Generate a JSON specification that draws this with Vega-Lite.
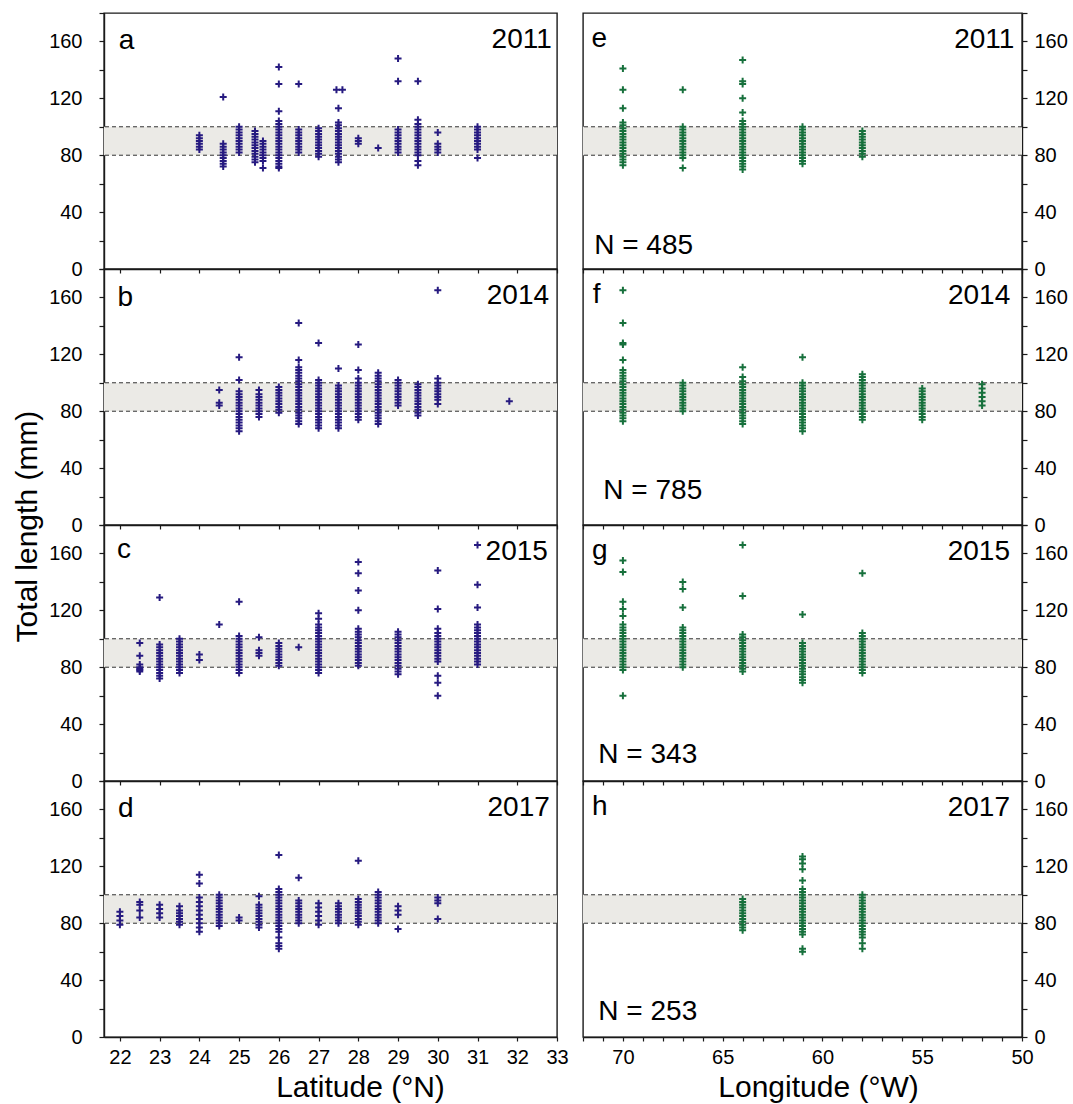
{
"$schema": "https://vega.github.io/schema/vega-lite/v6.json",
"padding": {"left": 11, "top": 2, "right": 5, "bottom": 5},
"background": "white",
"config": {
 "font": "Liberation Sans",
 "view": {"stroke": "#1a1a1a", "strokeWidth": 1.4},
 "axis": {"domainColor": "#1a1a1a", "domainWidth": 1.4, "tickColor": "#1a1a1a", "tickWidth": 1.2, "labelColor": "#000000", "labelFont": "Liberation Sans", "labelFontSize": 20, "titleFont": "Liberation Sans", "titleFontSize": 30, "titleFontWeight": "normal", "titleColor": "#000000", "grid": false, "labelFlush": false, "labelOverlap": false, "tickCount": 100},
 "text": {"font": "Liberation Sans", "fontSize": 28, "color": "#000000"}
},
"columns": 2,
"spacing": {"row": 0, "column": 26},
"bounds": "flush",
"resolve": {"scale": {"x": "independent", "y": "independent"}},
"concat": [
 {"width": 453, "height": 256, "data": {"values": [{}]}, "layer": [
  {"mark": {"type": "rect", "color": "#ebeae6"}, "encoding": {"y": {"datum": 80}, "y2": {"datum": 100}}},
  {"mark": {"type": "rule", "color": "#333333", "strokeDash": [4, 3], "strokeWidth": 1}, "encoding": {"y": {"datum": 80}}},
  {"mark": {"type": "rule", "color": "#333333", "strokeDash": [4, 3], "strokeWidth": 1}, "encoding": {"y": {"datum": 100}}},
  {"data": {"name": "lat"}, "transform": [{"filter": "datum.year == 2011"}], "mark": {"type": "point", "shape": "M-1,0H1M0,-1V1", "size": 49, "filled": false, "strokeWidth": 2, "color": "#261a80", "opacity": 1},
   "encoding": {"x": {"field": "lat", "type": "quantitative", "scale": {"domain": [21.6, 33], "nice": false, "zero": false}, "axis": {"values": [22,23,24,25,26,27,28,29,30,31,32,33], "tickCount": 100, "labels": false, "title": null, "tickSize": 4}},
    "y": {"field": "len", "type": "quantitative", "scale": {"domain": [0, 180], "nice": false, "zero": false}, "axis": {"values": [0,20,40,60,80,100,120,140,160,180], "tickCount": 100, "format": "d", "labelExpr": "datum.value % 40 == 0 && datum.value < 180 ? datum.label : ''", "labelOverlap": false, "title": null, "tickSize": 5, "labelPadding": 17}}}},
  {"mark": {"type": "text", "align": "left", "baseline": "alphabetic", "fontSize": 28}, "encoding": {"x": {"datum": 21.97}, "y": {"datum": 155}, "text": {"value": "a"}}},
  {"mark": {"type": "text", "align": "right", "baseline": "alphabetic", "fontSize": 28}, "encoding": {"x": {"datum": 32.87}, "y": {"datum": 155.5}, "text": {"value": "2011"}}}
 ]},
 {"width": 439, "height": 256, "data": {"values": [{}]}, "layer": [
  {"mark": {"type": "rect", "color": "#ebeae6"}, "encoding": {"y": {"datum": 80}, "y2": {"datum": 100}}},
  {"mark": {"type": "rule", "color": "#333333", "strokeDash": [4, 3], "strokeWidth": 1}, "encoding": {"y": {"datum": 80}}},
  {"mark": {"type": "rule", "color": "#333333", "strokeDash": [4, 3], "strokeWidth": 1}, "encoding": {"y": {"datum": 100}}},
  {"data": {"name": "lon"}, "transform": [{"filter": "datum.year == 2011"}], "mark": {"type": "point", "shape": "M-1,0H1M0,-1V1", "size": 49, "filled": false, "strokeWidth": 2, "color": "#17703c", "opacity": 1},
   "encoding": {"x": {"field": "lon", "type": "quantitative", "scale": {"domain": [50, 72], "reverse": true, "nice": false, "zero": false}, "axis": {"values": [50,51,52,53,54,55,56,57,58,59,60,61,62,63,64,65,66,67,68,69,70,71,72], "tickCount": 100, "labels": false, "title": null, "tickSize": 4}},
    "y": {"field": "len", "type": "quantitative", "scale": {"domain": [0, 180], "nice": false, "zero": false}, "axis": {"orient": "right", "values": [0,20,40,60,80,100,120,140,160,180], "tickCount": 100, "format": "d", "labelExpr": "datum.value % 40 == 0 && datum.value < 180 ? datum.label : ''", "labelOverlap": false, "title": null, "tickSize": 5, "labelPadding": 7, "labelAlign": "left"}}}},
  {"mark": {"type": "text", "align": "left", "baseline": "alphabetic", "fontSize": 28}, "encoding": {"x": {"datum": 71.57}, "y": {"datum": 156}, "text": {"value": "e"}}},
  {"mark": {"type": "text", "align": "right", "baseline": "alphabetic", "fontSize": 28}, "encoding": {"x": {"datum": 50.38}, "y": {"datum": 155.5}, "text": {"value": "2011"}}},
  {"mark": {"type": "text", "align": "left", "baseline": "alphabetic", "fontSize": 28}, "encoding": {"x": {"datum": 71.44}, "y": {"datum": 10.5}, "text": {"value": "N = 485"}}}
 ]},
 {"width": 453, "height": 256, "data": {"values": [{}]}, "layer": [
  {"mark": {"type": "rect", "color": "#ebeae6"}, "encoding": {"y": {"datum": 80}, "y2": {"datum": 100}}},
  {"mark": {"type": "rule", "color": "#333333", "strokeDash": [4, 3], "strokeWidth": 1}, "encoding": {"y": {"datum": 80}}},
  {"mark": {"type": "rule", "color": "#333333", "strokeDash": [4, 3], "strokeWidth": 1}, "encoding": {"y": {"datum": 100}}},
  {"data": {"name": "lat"}, "transform": [{"filter": "datum.year == 2014"}], "mark": {"type": "point", "shape": "M-1,0H1M0,-1V1", "size": 49, "filled": false, "strokeWidth": 2, "color": "#261a80", "opacity": 1},
   "encoding": {"x": {"field": "lat", "type": "quantitative", "scale": {"domain": [21.6, 33], "nice": false, "zero": false}, "axis": {"values": [22,23,24,25,26,27,28,29,30,31,32,33], "tickCount": 100, "labels": false, "title": null, "tickSize": 4}},
    "y": {"field": "len", "type": "quantitative", "scale": {"domain": [0, 180], "nice": false, "zero": false}, "axis": {"values": [0,20,40,60,80,100,120,140,160,180], "tickCount": 100, "format": "d", "labelExpr": "datum.value % 40 == 0 && datum.value < 180 ? datum.label : ''", "labelOverlap": false, "title": "Total length (mm)", "titleX": -68, "titleY": 257, "titleAlign": "center", "titleBaseline": "alphabetic", "titleAngle": 270, "tickSize": 5, "labelPadding": 17}}}},
  {"mark": {"type": "text", "align": "left", "baseline": "alphabetic", "fontSize": 28}, "encoding": {"x": {"datum": 21.94}, "y": {"datum": 154}, "text": {"value": "b"}}},
  {"mark": {"type": "text", "align": "right", "baseline": "alphabetic", "fontSize": 28}, "encoding": {"x": {"datum": 32.8}, "y": {"datum": 155.2}, "text": {"value": "2014"}}}
 ]},
 {"width": 439, "height": 256, "data": {"values": [{}]}, "layer": [
  {"mark": {"type": "rect", "color": "#ebeae6"}, "encoding": {"y": {"datum": 80}, "y2": {"datum": 100}}},
  {"mark": {"type": "rule", "color": "#333333", "strokeDash": [4, 3], "strokeWidth": 1}, "encoding": {"y": {"datum": 80}}},
  {"mark": {"type": "rule", "color": "#333333", "strokeDash": [4, 3], "strokeWidth": 1}, "encoding": {"y": {"datum": 100}}},
  {"data": {"name": "lon"}, "transform": [{"filter": "datum.year == 2014"}], "mark": {"type": "point", "shape": "M-1,0H1M0,-1V1", "size": 49, "filled": false, "strokeWidth": 2, "color": "#17703c", "opacity": 1},
   "encoding": {"x": {"field": "lon", "type": "quantitative", "scale": {"domain": [50, 72], "reverse": true, "nice": false, "zero": false}, "axis": {"values": [50,51,52,53,54,55,56,57,58,59,60,61,62,63,64,65,66,67,68,69,70,71,72], "tickCount": 100, "labels": false, "title": null, "tickSize": 4}},
    "y": {"field": "len", "type": "quantitative", "scale": {"domain": [0, 180], "nice": false, "zero": false}, "axis": {"orient": "right", "values": [0,20,40,60,80,100,120,140,160,180], "tickCount": 100, "format": "d", "labelExpr": "datum.value % 40 == 0 && datum.value < 180 ? datum.label : ''", "labelOverlap": false, "title": null, "tickSize": 5, "labelPadding": 7, "labelAlign": "left"}}}},
  {"mark": {"type": "text", "align": "left", "baseline": "alphabetic", "fontSize": 28}, "encoding": {"x": {"datum": 71.51}, "y": {"datum": 156.3}, "text": {"value": "f"}}},
  {"mark": {"type": "text", "align": "right", "baseline": "alphabetic", "fontSize": 28}, "encoding": {"x": {"datum": 50.59}, "y": {"datum": 155.2}, "text": {"value": "2014"}}},
  {"mark": {"type": "text", "align": "left", "baseline": "alphabetic", "fontSize": 28}, "encoding": {"x": {"datum": 70.98}, "y": {"datum": 18.1}, "text": {"value": "N = 785"}}}
 ]},
 {"width": 453, "height": 256, "data": {"values": [{}]}, "layer": [
  {"mark": {"type": "rect", "color": "#ebeae6"}, "encoding": {"y": {"datum": 80}, "y2": {"datum": 100}}},
  {"mark": {"type": "rule", "color": "#333333", "strokeDash": [4, 3], "strokeWidth": 1}, "encoding": {"y": {"datum": 80}}},
  {"mark": {"type": "rule", "color": "#333333", "strokeDash": [4, 3], "strokeWidth": 1}, "encoding": {"y": {"datum": 100}}},
  {"data": {"name": "lat"}, "transform": [{"filter": "datum.year == 2015"}], "mark": {"type": "point", "shape": "M-1,0H1M0,-1V1", "size": 49, "filled": false, "strokeWidth": 2, "color": "#261a80", "opacity": 1},
   "encoding": {"x": {"field": "lat", "type": "quantitative", "scale": {"domain": [21.6, 33], "nice": false, "zero": false}, "axis": {"values": [22,23,24,25,26,27,28,29,30,31,32,33], "tickCount": 100, "labels": false, "title": null, "tickSize": 4}},
    "y": {"field": "len", "type": "quantitative", "scale": {"domain": [0, 180], "nice": false, "zero": false}, "axis": {"values": [0,20,40,60,80,100,120,140,160,180], "tickCount": 100, "format": "d", "labelExpr": "datum.value % 40 == 0 && datum.value < 180 ? datum.label : ''", "labelOverlap": false, "title": null, "tickSize": 5, "labelPadding": 17}}}},
  {"mark": {"type": "text", "align": "left", "baseline": "alphabetic", "fontSize": 28}, "encoding": {"x": {"datum": 21.93}, "y": {"datum": 156.5}, "text": {"value": "c"}}},
  {"mark": {"type": "text", "align": "right", "baseline": "alphabetic", "fontSize": 28}, "encoding": {"x": {"datum": 32.77}, "y": {"datum": 155.2}, "text": {"value": "2015"}}}
 ]},
 {"width": 439, "height": 256, "data": {"values": [{}]}, "layer": [
  {"mark": {"type": "rect", "color": "#ebeae6"}, "encoding": {"y": {"datum": 80}, "y2": {"datum": 100}}},
  {"mark": {"type": "rule", "color": "#333333", "strokeDash": [4, 3], "strokeWidth": 1}, "encoding": {"y": {"datum": 80}}},
  {"mark": {"type": "rule", "color": "#333333", "strokeDash": [4, 3], "strokeWidth": 1}, "encoding": {"y": {"datum": 100}}},
  {"data": {"name": "lon"}, "transform": [{"filter": "datum.year == 2015"}], "mark": {"type": "point", "shape": "M-1,0H1M0,-1V1", "size": 49, "filled": false, "strokeWidth": 2, "color": "#17703c", "opacity": 1},
   "encoding": {"x": {"field": "lon", "type": "quantitative", "scale": {"domain": [50, 72], "reverse": true, "nice": false, "zero": false}, "axis": {"values": [50,51,52,53,54,55,56,57,58,59,60,61,62,63,64,65,66,67,68,69,70,71,72], "tickCount": 100, "labels": false, "title": null, "tickSize": 4}},
    "y": {"field": "len", "type": "quantitative", "scale": {"domain": [0, 180], "nice": false, "zero": false}, "axis": {"orient": "right", "values": [0,20,40,60,80,100,120,140,160,180], "tickCount": 100, "format": "d", "labelExpr": "datum.value % 40 == 0 && datum.value < 180 ? datum.label : ''", "labelOverlap": false, "title": null, "tickSize": 5, "labelPadding": 7, "labelAlign": "left"}}}},
  {"mark": {"type": "text", "align": "left", "baseline": "alphabetic", "fontSize": 28}, "encoding": {"x": {"datum": 71.55}, "y": {"datum": 156}, "text": {"value": "g"}}},
  {"mark": {"type": "text", "align": "right", "baseline": "alphabetic", "fontSize": 28}, "encoding": {"x": {"datum": 50.6}, "y": {"datum": 155.2}, "text": {"value": "2015"}}},
  {"mark": {"type": "text", "align": "left", "baseline": "alphabetic", "fontSize": 28}, "encoding": {"x": {"datum": 71.23}, "y": {"datum": 12.7}, "text": {"value": "N = 343"}}}
 ]},
 {"width": 453, "height": 256, "data": {"values": [{}]}, "layer": [
  {"mark": {"type": "rect", "color": "#ebeae6"}, "encoding": {"y": {"datum": 80}, "y2": {"datum": 100}}},
  {"mark": {"type": "rule", "color": "#333333", "strokeDash": [4, 3], "strokeWidth": 1}, "encoding": {"y": {"datum": 80}}},
  {"mark": {"type": "rule", "color": "#333333", "strokeDash": [4, 3], "strokeWidth": 1}, "encoding": {"y": {"datum": 100}}},
  {"data": {"name": "lat"}, "transform": [{"filter": "datum.year == 2017"}], "mark": {"type": "point", "shape": "M-1,0H1M0,-1V1", "size": 49, "filled": false, "strokeWidth": 2, "color": "#261a80", "opacity": 1},
   "encoding": {"x": {"field": "lat", "type": "quantitative", "scale": {"domain": [21.6, 33], "nice": false, "zero": false}, "axis": {"values": [22,23,24,25,26,27,28,29,30,31,32,33], "tickCount": 100, "format": "d", "labelOverlap": false, "title": "Latitude (°N)", "tickSize": 4, "labelPadding": 6, "titleX": 256, "titleY": 59, "titleAlign": "center", "titleBaseline": "alphabetic"}},
    "y": {"field": "len", "type": "quantitative", "scale": {"domain": [0, 180], "nice": false, "zero": false}, "axis": {"values": [0,20,40,60,80,100,120,140,160,180], "tickCount": 100, "format": "d", "labelExpr": "datum.value % 40 == 0 && datum.value < 180 ? datum.label : ''", "labelOverlap": false, "title": null, "tickSize": 5, "labelPadding": 17}}}},
  {"mark": {"type": "text", "align": "left", "baseline": "alphabetic", "fontSize": 28}, "encoding": {"x": {"datum": 21.95}, "y": {"datum": 155}, "text": {"value": "d"}}},
  {"mark": {"type": "text", "align": "right", "baseline": "alphabetic", "fontSize": 28}, "encoding": {"x": {"datum": 32.82}, "y": {"datum": 155.2}, "text": {"value": "2017"}}}
 ]},
 {"width": 439, "height": 256, "data": {"values": [{}]}, "layer": [
  {"mark": {"type": "rect", "color": "#ebeae6"}, "encoding": {"y": {"datum": 80}, "y2": {"datum": 100}}},
  {"mark": {"type": "rule", "color": "#333333", "strokeDash": [4, 3], "strokeWidth": 1}, "encoding": {"y": {"datum": 80}}},
  {"mark": {"type": "rule", "color": "#333333", "strokeDash": [4, 3], "strokeWidth": 1}, "encoding": {"y": {"datum": 100}}},
  {"data": {"name": "lon"}, "transform": [{"filter": "datum.year == 2017"}], "mark": {"type": "point", "shape": "M-1,0H1M0,-1V1", "size": 49, "filled": false, "strokeWidth": 2, "color": "#17703c", "opacity": 1},
   "encoding": {"x": {"field": "lon", "type": "quantitative", "scale": {"domain": [50, 72], "reverse": true, "nice": false, "zero": false}, "axis": {"values": [50,51,52,53,54,55,56,57,58,59,60,61,62,63,64,65,66,67,68,69,70,71,72], "tickCount": 100, "format": "d", "labelExpr": "datum.value % 5 == 0 ? datum.label : ''", "labelOverlap": false, "title": "Longitude (°W)", "tickSize": 4, "labelPadding": 6, "titleX": 235, "titleY": 59, "titleAlign": "center", "titleBaseline": "alphabetic"}},
    "y": {"field": "len", "type": "quantitative", "scale": {"domain": [0, 180], "nice": false, "zero": false}, "axis": {"orient": "right", "values": [0,20,40,60,80,100,120,140,160,180], "tickCount": 100, "format": "d", "labelExpr": "datum.value % 40 == 0 && datum.value < 180 ? datum.label : ''", "labelOverlap": false, "title": null, "tickSize": 5, "labelPadding": 7, "labelAlign": "left"}}}},
  {"mark": {"type": "text", "align": "left", "baseline": "alphabetic", "fontSize": 28}, "encoding": {"x": {"datum": 71.55}, "y": {"datum": 156}, "text": {"value": "h"}}},
  {"mark": {"type": "text", "align": "right", "baseline": "alphabetic", "fontSize": 28}, "encoding": {"x": {"datum": 50.6}, "y": {"datum": 155.2}, "text": {"value": "2017"}}},
  {"mark": {"type": "text", "align": "left", "baseline": "alphabetic", "fontSize": 28}, "encoding": {"x": {"datum": 71.23}, "y": {"datum": 11.7}, "text": {"value": "N = 253"}}}
 ]}
],
"datasets": {
"lat": [
{"year":2011,"lat":24,"len":84},{"year":2011,"lat":24,"len":86},{"year":2011,"lat":24,"len":88},{"year":2011,"lat":24,"len":90},{"year":2011,"lat":24,"len":92},{"year":2011,"lat":24,"len":94},
{"year":2011,"lat":24.6,"len":72},{"year":2011,"lat":24.6,"len":74},{"year":2011,"lat":24.6,"len":76},{"year":2011,"lat":24.6,"len":78},{"year":2011,"lat":24.6,"len":80},{"year":2011,"lat":24.6,"len":82},{"year":2011,"lat":24.6,"len":84},{"year":2011,"lat":24.6,"len":86},{"year":2011,"lat":24.6,"len":88},{"year":2011,"lat":24.6,"len":121},
{"year":2011,"lat":25,"len":82},{"year":2011,"lat":25,"len":84},{"year":2011,"lat":25,"len":86},{"year":2011,"lat":25,"len":88},{"year":2011,"lat":25,"len":90},{"year":2011,"lat":25,"len":92},{"year":2011,"lat":25,"len":94},{"year":2011,"lat":25,"len":96},{"year":2011,"lat":25,"len":98},{"year":2011,"lat":25,"len":100},
{"year":2011,"lat":25.4,"len":75},{"year":2011,"lat":25.4,"len":77},{"year":2011,"lat":25.4,"len":79},{"year":2011,"lat":25.4,"len":81},{"year":2011,"lat":25.4,"len":83},{"year":2011,"lat":25.4,"len":85},{"year":2011,"lat":25.4,"len":87},{"year":2011,"lat":25.4,"len":89},{"year":2011,"lat":25.4,"len":91},{"year":2011,"lat":25.4,"len":93},{"year":2011,"lat":25.4,"len":95},{"year":2011,"lat":25.4,"len":97},
{"year":2011,"lat":25.6,"len":71},{"year":2011,"lat":25.6,"len":76},{"year":2011,"lat":25.6,"len":78},{"year":2011,"lat":25.6,"len":80},{"year":2011,"lat":25.6,"len":82},{"year":2011,"lat":25.6,"len":84},{"year":2011,"lat":25.6,"len":86},{"year":2011,"lat":25.6,"len":88},{"year":2011,"lat":25.6,"len":90},
{"year":2011,"lat":26,"len":71},{"year":2011,"lat":26,"len":72},{"year":2011,"lat":26,"len":74},{"year":2011,"lat":26,"len":76},{"year":2011,"lat":26,"len":78},{"year":2011,"lat":26,"len":80},{"year":2011,"lat":26,"len":82},{"year":2011,"lat":26,"len":84},{"year":2011,"lat":26,"len":86},{"year":2011,"lat":26,"len":88},{"year":2011,"lat":26,"len":90},{"year":2011,"lat":26,"len":92},{"year":2011,"lat":26,"len":94},{"year":2011,"lat":26,"len":96},{"year":2011,"lat":26,"len":98},{"year":2011,"lat":26,"len":100},{"year":2011,"lat":26,"len":102},{"year":2011,"lat":26,"len":104},{"year":2011,"lat":26,"len":111},{"year":2011,"lat":26,"len":130},{"year":2011,"lat":26,"len":142},
{"year":2011,"lat":26.5,"len":82},{"year":2011,"lat":26.5,"len":84},{"year":2011,"lat":26.5,"len":86},{"year":2011,"lat":26.5,"len":88},{"year":2011,"lat":26.5,"len":90},{"year":2011,"lat":26.5,"len":92},{"year":2011,"lat":26.5,"len":94},{"year":2011,"lat":26.5,"len":96},{"year":2011,"lat":26.5,"len":98},{"year":2011,"lat":26.5,"len":130},
{"year":2011,"lat":27,"len":79},{"year":2011,"lat":27,"len":81},{"year":2011,"lat":27,"len":83},{"year":2011,"lat":27,"len":85},{"year":2011,"lat":27,"len":87},{"year":2011,"lat":27,"len":89},{"year":2011,"lat":27,"len":91},{"year":2011,"lat":27,"len":93},{"year":2011,"lat":27,"len":95},{"year":2011,"lat":27,"len":97},{"year":2011,"lat":27,"len":99},
{"year":2011,"lat":27.5,"len":75},{"year":2011,"lat":27.5,"len":77},{"year":2011,"lat":27.5,"len":79},{"year":2011,"lat":27.5,"len":81},{"year":2011,"lat":27.5,"len":83},{"year":2011,"lat":27.5,"len":85},{"year":2011,"lat":27.5,"len":87},{"year":2011,"lat":27.5,"len":89},{"year":2011,"lat":27.5,"len":91},{"year":2011,"lat":27.5,"len":93},{"year":2011,"lat":27.5,"len":95},{"year":2011,"lat":27.5,"len":97},{"year":2011,"lat":27.5,"len":99},{"year":2011,"lat":27.5,"len":101},{"year":2011,"lat":27.5,"len":103},{"year":2011,"lat":27.5,"len":113},{"year":2011,"lat":27.45,"len":126},{"year":2011,"lat":27.6,"len":126},
{"year":2011,"lat":28,"len":88},{"year":2011,"lat":28,"len":90},{"year":2011,"lat":28,"len":92},
{"year":2011,"lat":28.5,"len":85},
{"year":2011,"lat":29,"len":82},{"year":2011,"lat":29,"len":84},{"year":2011,"lat":29,"len":86},{"year":2011,"lat":29,"len":88},{"year":2011,"lat":29,"len":90},{"year":2011,"lat":29,"len":92},{"year":2011,"lat":29,"len":94},{"year":2011,"lat":29,"len":96},{"year":2011,"lat":29,"len":98},{"year":2011,"lat":29,"len":132},{"year":2011,"lat":29,"len":148},
{"year":2011,"lat":29.5,"len":73},{"year":2011,"lat":29.5,"len":76},{"year":2011,"lat":29.5,"len":80},{"year":2011,"lat":29.5,"len":82},{"year":2011,"lat":29.5,"len":84},{"year":2011,"lat":29.5,"len":86},{"year":2011,"lat":29.5,"len":88},{"year":2011,"lat":29.5,"len":90},{"year":2011,"lat":29.5,"len":92},{"year":2011,"lat":29.5,"len":94},{"year":2011,"lat":29.5,"len":96},{"year":2011,"lat":29.5,"len":98},{"year":2011,"lat":29.5,"len":100},{"year":2011,"lat":29.5,"len":102},{"year":2011,"lat":29.5,"len":105},{"year":2011,"lat":29.5,"len":132},
{"year":2011,"lat":30,"len":82},{"year":2011,"lat":30,"len":84},{"year":2011,"lat":30,"len":86},{"year":2011,"lat":30,"len":88},{"year":2011,"lat":30,"len":96},
{"year":2011,"lat":31,"len":78},{"year":2011,"lat":31,"len":84},{"year":2011,"lat":31,"len":86},{"year":2011,"lat":31,"len":88},{"year":2011,"lat":31,"len":90},{"year":2011,"lat":31,"len":92},{"year":2011,"lat":31,"len":94},{"year":2011,"lat":31,"len":96},{"year":2011,"lat":31,"len":98},{"year":2011,"lat":31,"len":100},
{"year":2014,"lat":24.5,"len":84},{"year":2014,"lat":24.5,"len":86},{"year":2014,"lat":24.5,"len":95},
{"year":2014,"lat":25,"len":66},{"year":2014,"lat":25,"len":68},{"year":2014,"lat":25,"len":70},{"year":2014,"lat":25,"len":72},{"year":2014,"lat":25,"len":74},{"year":2014,"lat":25,"len":76},{"year":2014,"lat":25,"len":78},{"year":2014,"lat":25,"len":80},{"year":2014,"lat":25,"len":82},{"year":2014,"lat":25,"len":84},{"year":2014,"lat":25,"len":86},{"year":2014,"lat":25,"len":88},{"year":2014,"lat":25,"len":90},{"year":2014,"lat":25,"len":92},{"year":2014,"lat":25,"len":94},{"year":2014,"lat":25,"len":102},{"year":2014,"lat":25,"len":118},
{"year":2014,"lat":25.5,"len":76},{"year":2014,"lat":25.5,"len":78},{"year":2014,"lat":25.5,"len":80},{"year":2014,"lat":25.5,"len":82},{"year":2014,"lat":25.5,"len":84},{"year":2014,"lat":25.5,"len":86},{"year":2014,"lat":25.5,"len":88},{"year":2014,"lat":25.5,"len":90},{"year":2014,"lat":25.5,"len":92},{"year":2014,"lat":25.5,"len":95},
{"year":2014,"lat":26,"len":79},{"year":2014,"lat":26,"len":81},{"year":2014,"lat":26,"len":83},{"year":2014,"lat":26,"len":85},{"year":2014,"lat":26,"len":87},{"year":2014,"lat":26,"len":89},{"year":2014,"lat":26,"len":91},{"year":2014,"lat":26,"len":93},{"year":2014,"lat":26,"len":95},{"year":2014,"lat":26,"len":97},
{"year":2014,"lat":26.5,"len":71},{"year":2014,"lat":26.5,"len":73},{"year":2014,"lat":26.5,"len":75},{"year":2014,"lat":26.5,"len":77},{"year":2014,"lat":26.5,"len":79},{"year":2014,"lat":26.5,"len":81},{"year":2014,"lat":26.5,"len":83},{"year":2014,"lat":26.5,"len":85},{"year":2014,"lat":26.5,"len":87},{"year":2014,"lat":26.5,"len":89},{"year":2014,"lat":26.5,"len":91},{"year":2014,"lat":26.5,"len":93},{"year":2014,"lat":26.5,"len":95},{"year":2014,"lat":26.5,"len":97},{"year":2014,"lat":26.5,"len":99},{"year":2014,"lat":26.5,"len":101},{"year":2014,"lat":26.5,"len":103},{"year":2014,"lat":26.5,"len":105},{"year":2014,"lat":26.5,"len":107},{"year":2014,"lat":26.5,"len":109},{"year":2014,"lat":26.5,"len":111},{"year":2014,"lat":26.5,"len":116},{"year":2014,"lat":26.5,"len":142},
{"year":2014,"lat":27,"len":68},{"year":2014,"lat":27,"len":70},{"year":2014,"lat":27,"len":72},{"year":2014,"lat":27,"len":74},{"year":2014,"lat":27,"len":76},{"year":2014,"lat":27,"len":78},{"year":2014,"lat":27,"len":80},{"year":2014,"lat":27,"len":82},{"year":2014,"lat":27,"len":84},{"year":2014,"lat":27,"len":86},{"year":2014,"lat":27,"len":88},{"year":2014,"lat":27,"len":90},{"year":2014,"lat":27,"len":92},{"year":2014,"lat":27,"len":94},{"year":2014,"lat":27,"len":96},{"year":2014,"lat":27,"len":98},{"year":2014,"lat":27,"len":100},{"year":2014,"lat":27,"len":102},{"year":2014,"lat":27,"len":128},
{"year":2014,"lat":27.5,"len":68},{"year":2014,"lat":27.5,"len":70},{"year":2014,"lat":27.5,"len":72},{"year":2014,"lat":27.5,"len":74},{"year":2014,"lat":27.5,"len":76},{"year":2014,"lat":27.5,"len":78},{"year":2014,"lat":27.5,"len":80},{"year":2014,"lat":27.5,"len":82},{"year":2014,"lat":27.5,"len":84},{"year":2014,"lat":27.5,"len":86},{"year":2014,"lat":27.5,"len":88},{"year":2014,"lat":27.5,"len":90},{"year":2014,"lat":27.5,"len":92},{"year":2014,"lat":27.5,"len":94},{"year":2014,"lat":27.5,"len":96},{"year":2014,"lat":27.5,"len":98},{"year":2014,"lat":27.5,"len":110},
{"year":2014,"lat":28,"len":74},{"year":2014,"lat":28,"len":76},{"year":2014,"lat":28,"len":78},{"year":2014,"lat":28,"len":80},{"year":2014,"lat":28,"len":82},{"year":2014,"lat":28,"len":84},{"year":2014,"lat":28,"len":86},{"year":2014,"lat":28,"len":88},{"year":2014,"lat":28,"len":90},{"year":2014,"lat":28,"len":92},{"year":2014,"lat":28,"len":94},{"year":2014,"lat":28,"len":96},{"year":2014,"lat":28,"len":98},{"year":2014,"lat":28,"len":100},{"year":2014,"lat":28,"len":103},{"year":2014,"lat":28,"len":109},{"year":2014,"lat":28,"len":127},
{"year":2014,"lat":28.5,"len":71},{"year":2014,"lat":28.5,"len":73},{"year":2014,"lat":28.5,"len":75},{"year":2014,"lat":28.5,"len":77},{"year":2014,"lat":28.5,"len":79},{"year":2014,"lat":28.5,"len":81},{"year":2014,"lat":28.5,"len":83},{"year":2014,"lat":28.5,"len":85},{"year":2014,"lat":28.5,"len":87},{"year":2014,"lat":28.5,"len":89},{"year":2014,"lat":28.5,"len":91},{"year":2014,"lat":28.5,"len":93},{"year":2014,"lat":28.5,"len":95},{"year":2014,"lat":28.5,"len":97},{"year":2014,"lat":28.5,"len":99},{"year":2014,"lat":28.5,"len":101},{"year":2014,"lat":28.5,"len":103},{"year":2014,"lat":28.5,"len":105},{"year":2014,"lat":28.5,"len":107},
{"year":2014,"lat":29,"len":84},{"year":2014,"lat":29,"len":86},{"year":2014,"lat":29,"len":88},{"year":2014,"lat":29,"len":90},{"year":2014,"lat":29,"len":92},{"year":2014,"lat":29,"len":94},{"year":2014,"lat":29,"len":96},{"year":2014,"lat":29,"len":98},{"year":2014,"lat":29,"len":100},{"year":2014,"lat":29,"len":102},
{"year":2014,"lat":29.5,"len":77},{"year":2014,"lat":29.5,"len":79},{"year":2014,"lat":29.5,"len":81},{"year":2014,"lat":29.5,"len":83},{"year":2014,"lat":29.5,"len":85},{"year":2014,"lat":29.5,"len":87},{"year":2014,"lat":29.5,"len":89},{"year":2014,"lat":29.5,"len":91},{"year":2014,"lat":29.5,"len":93},{"year":2014,"lat":29.5,"len":95},{"year":2014,"lat":29.5,"len":97},{"year":2014,"lat":29.5,"len":99},
{"year":2014,"lat":30,"len":85},{"year":2014,"lat":30,"len":88},{"year":2014,"lat":30,"len":90},{"year":2014,"lat":30,"len":92},{"year":2014,"lat":30,"len":94},{"year":2014,"lat":30,"len":96},{"year":2014,"lat":30,"len":98},{"year":2014,"lat":30,"len":100},{"year":2014,"lat":30,"len":103},{"year":2014,"lat":30,"len":165},
{"year":2014,"lat":31.8,"len":87},
{"year":2015,"lat":22.5,"len":77},{"year":2015,"lat":22.5,"len":78},{"year":2015,"lat":22.5,"len":79},{"year":2015,"lat":22.5,"len":80},{"year":2015,"lat":22.5,"len":82},{"year":2015,"lat":22.5,"len":88},{"year":2015,"lat":22.5,"len":97},
{"year":2015,"lat":23,"len":72},{"year":2015,"lat":23,"len":74},{"year":2015,"lat":23,"len":76},{"year":2015,"lat":23,"len":78},{"year":2015,"lat":23,"len":80},{"year":2015,"lat":23,"len":82},{"year":2015,"lat":23,"len":84},{"year":2015,"lat":23,"len":86},{"year":2015,"lat":23,"len":88},{"year":2015,"lat":23,"len":90},{"year":2015,"lat":23,"len":92},{"year":2015,"lat":23,"len":94},{"year":2015,"lat":23,"len":96},{"year":2015,"lat":23,"len":129},
{"year":2015,"lat":23.5,"len":76},{"year":2015,"lat":23.5,"len":78},{"year":2015,"lat":23.5,"len":80},{"year":2015,"lat":23.5,"len":82},{"year":2015,"lat":23.5,"len":84},{"year":2015,"lat":23.5,"len":86},{"year":2015,"lat":23.5,"len":88},{"year":2015,"lat":23.5,"len":90},{"year":2015,"lat":23.5,"len":92},{"year":2015,"lat":23.5,"len":94},{"year":2015,"lat":23.5,"len":96},{"year":2015,"lat":23.5,"len":98},{"year":2015,"lat":23.5,"len":100},
{"year":2015,"lat":24,"len":85},{"year":2015,"lat":24,"len":89},
{"year":2015,"lat":24.5,"len":110},
{"year":2015,"lat":25,"len":76},{"year":2015,"lat":25,"len":78},{"year":2015,"lat":25,"len":80},{"year":2015,"lat":25,"len":82},{"year":2015,"lat":25,"len":84},{"year":2015,"lat":25,"len":86},{"year":2015,"lat":25,"len":88},{"year":2015,"lat":25,"len":90},{"year":2015,"lat":25,"len":92},{"year":2015,"lat":25,"len":94},{"year":2015,"lat":25,"len":96},{"year":2015,"lat":25,"len":98},{"year":2015,"lat":25,"len":100},{"year":2015,"lat":25,"len":102},{"year":2015,"lat":25,"len":126},
{"year":2015,"lat":25.5,"len":88},{"year":2015,"lat":25.5,"len":90},{"year":2015,"lat":25.5,"len":92},{"year":2015,"lat":25.5,"len":101},
{"year":2015,"lat":26,"len":81},{"year":2015,"lat":26,"len":83},{"year":2015,"lat":26,"len":85},{"year":2015,"lat":26,"len":87},{"year":2015,"lat":26,"len":89},{"year":2015,"lat":26,"len":91},{"year":2015,"lat":26,"len":93},{"year":2015,"lat":26,"len":95},{"year":2015,"lat":26,"len":97},
{"year":2015,"lat":26.5,"len":94},
{"year":2015,"lat":27,"len":76},{"year":2015,"lat":27,"len":78},{"year":2015,"lat":27,"len":80},{"year":2015,"lat":27,"len":82},{"year":2015,"lat":27,"len":84},{"year":2015,"lat":27,"len":86},{"year":2015,"lat":27,"len":88},{"year":2015,"lat":27,"len":90},{"year":2015,"lat":27,"len":92},{"year":2015,"lat":27,"len":94},{"year":2015,"lat":27,"len":96},{"year":2015,"lat":27,"len":98},{"year":2015,"lat":27,"len":100},{"year":2015,"lat":27,"len":102},{"year":2015,"lat":27,"len":104},{"year":2015,"lat":27,"len":106},{"year":2015,"lat":27,"len":108},{"year":2015,"lat":27,"len":110},{"year":2015,"lat":27,"len":114},{"year":2015,"lat":27,"len":118},
{"year":2015,"lat":28,"len":81},{"year":2015,"lat":28,"len":83},{"year":2015,"lat":28,"len":85},{"year":2015,"lat":28,"len":87},{"year":2015,"lat":28,"len":89},{"year":2015,"lat":28,"len":91},{"year":2015,"lat":28,"len":93},{"year":2015,"lat":28,"len":95},{"year":2015,"lat":28,"len":97},{"year":2015,"lat":28,"len":99},{"year":2015,"lat":28,"len":101},{"year":2015,"lat":28,"len":103},{"year":2015,"lat":28,"len":105},{"year":2015,"lat":28,"len":107},{"year":2015,"lat":28,"len":120},{"year":2015,"lat":28,"len":134},{"year":2015,"lat":28,"len":146},{"year":2015,"lat":28,"len":154},
{"year":2015,"lat":29,"len":75},{"year":2015,"lat":29,"len":77},{"year":2015,"lat":29,"len":79},{"year":2015,"lat":29,"len":81},{"year":2015,"lat":29,"len":83},{"year":2015,"lat":29,"len":85},{"year":2015,"lat":29,"len":87},{"year":2015,"lat":29,"len":89},{"year":2015,"lat":29,"len":91},{"year":2015,"lat":29,"len":93},{"year":2015,"lat":29,"len":95},{"year":2015,"lat":29,"len":97},{"year":2015,"lat":29,"len":99},{"year":2015,"lat":29,"len":101},{"year":2015,"lat":29,"len":103},{"year":2015,"lat":29,"len":105},
{"year":2015,"lat":30,"len":60},{"year":2015,"lat":30,"len":69},{"year":2015,"lat":30,"len":74},{"year":2015,"lat":30,"len":84},{"year":2015,"lat":30,"len":86},{"year":2015,"lat":30,"len":88},{"year":2015,"lat":30,"len":90},{"year":2015,"lat":30,"len":92},{"year":2015,"lat":30,"len":94},{"year":2015,"lat":30,"len":96},{"year":2015,"lat":30,"len":98},{"year":2015,"lat":30,"len":100},{"year":2015,"lat":30,"len":102},{"year":2015,"lat":30,"len":104},{"year":2015,"lat":30,"len":107},{"year":2015,"lat":30,"len":121},{"year":2015,"lat":30,"len":148},
{"year":2015,"lat":31,"len":82},{"year":2015,"lat":31,"len":84},{"year":2015,"lat":31,"len":86},{"year":2015,"lat":31,"len":88},{"year":2015,"lat":31,"len":90},{"year":2015,"lat":31,"len":92},{"year":2015,"lat":31,"len":94},{"year":2015,"lat":31,"len":96},{"year":2015,"lat":31,"len":98},{"year":2015,"lat":31,"len":100},{"year":2015,"lat":31,"len":102},{"year":2015,"lat":31,"len":104},{"year":2015,"lat":31,"len":106},{"year":2015,"lat":31,"len":108},{"year":2015,"lat":31,"len":110},{"year":2015,"lat":31,"len":122},{"year":2015,"lat":31,"len":138},{"year":2015,"lat":31,"len":166},
{"year":2017,"lat":22,"len":79},{"year":2017,"lat":22,"len":82},{"year":2017,"lat":22,"len":85},{"year":2017,"lat":22,"len":88},
{"year":2017,"lat":22.5,"len":84},{"year":2017,"lat":22.5,"len":89},{"year":2017,"lat":22.5,"len":93},{"year":2017,"lat":22.5,"len":95},
{"year":2017,"lat":23,"len":84},{"year":2017,"lat":23,"len":87},{"year":2017,"lat":23,"len":90},{"year":2017,"lat":23,"len":93},
{"year":2017,"lat":23.5,"len":79},{"year":2017,"lat":23.5,"len":81},{"year":2017,"lat":23.5,"len":83},{"year":2017,"lat":23.5,"len":85},{"year":2017,"lat":23.5,"len":87},{"year":2017,"lat":23.5,"len":89},{"year":2017,"lat":23.5,"len":92},
{"year":2017,"lat":24,"len":74},{"year":2017,"lat":24,"len":77},{"year":2017,"lat":24,"len":80},{"year":2017,"lat":24,"len":83},{"year":2017,"lat":24,"len":86},{"year":2017,"lat":24,"len":89},{"year":2017,"lat":24,"len":92},{"year":2017,"lat":24,"len":95},{"year":2017,"lat":24,"len":98},{"year":2017,"lat":24,"len":108},{"year":2017,"lat":24,"len":114},
{"year":2017,"lat":24.5,"len":78},{"year":2017,"lat":24.5,"len":80},{"year":2017,"lat":24.5,"len":82},{"year":2017,"lat":24.5,"len":84},{"year":2017,"lat":24.5,"len":86},{"year":2017,"lat":24.5,"len":88},{"year":2017,"lat":24.5,"len":90},{"year":2017,"lat":24.5,"len":92},{"year":2017,"lat":24.5,"len":94},{"year":2017,"lat":24.5,"len":96},{"year":2017,"lat":24.5,"len":98},{"year":2017,"lat":24.5,"len":100},
{"year":2017,"lat":25,"len":82},{"year":2017,"lat":25,"len":84},
{"year":2017,"lat":25.5,"len":77},{"year":2017,"lat":25.5,"len":79},{"year":2017,"lat":25.5,"len":81},{"year":2017,"lat":25.5,"len":83},{"year":2017,"lat":25.5,"len":85},{"year":2017,"lat":25.5,"len":87},{"year":2017,"lat":25.5,"len":89},{"year":2017,"lat":25.5,"len":91},{"year":2017,"lat":25.5,"len":93},{"year":2017,"lat":25.5,"len":99},
{"year":2017,"lat":26,"len":62},{"year":2017,"lat":26,"len":64},{"year":2017,"lat":26,"len":66},{"year":2017,"lat":26,"len":70},{"year":2017,"lat":26,"len":74},{"year":2017,"lat":26,"len":76},{"year":2017,"lat":26,"len":78},{"year":2017,"lat":26,"len":80},{"year":2017,"lat":26,"len":82},{"year":2017,"lat":26,"len":84},{"year":2017,"lat":26,"len":86},{"year":2017,"lat":26,"len":88},{"year":2017,"lat":26,"len":90},{"year":2017,"lat":26,"len":92},{"year":2017,"lat":26,"len":94},{"year":2017,"lat":26,"len":96},{"year":2017,"lat":26,"len":98},{"year":2017,"lat":26,"len":100},{"year":2017,"lat":26,"len":102},{"year":2017,"lat":26,"len":104},{"year":2017,"lat":26,"len":128},
{"year":2017,"lat":26.5,"len":80},{"year":2017,"lat":26.5,"len":82},{"year":2017,"lat":26.5,"len":84},{"year":2017,"lat":26.5,"len":86},{"year":2017,"lat":26.5,"len":88},{"year":2017,"lat":26.5,"len":90},{"year":2017,"lat":26.5,"len":92},{"year":2017,"lat":26.5,"len":94},{"year":2017,"lat":26.5,"len":96},{"year":2017,"lat":26.5,"len":112},
{"year":2017,"lat":27,"len":79},{"year":2017,"lat":27,"len":82},{"year":2017,"lat":27,"len":85},{"year":2017,"lat":27,"len":88},{"year":2017,"lat":27,"len":91},{"year":2017,"lat":27,"len":94},
{"year":2017,"lat":27.5,"len":80},{"year":2017,"lat":27.5,"len":82},{"year":2017,"lat":27.5,"len":84},{"year":2017,"lat":27.5,"len":86},{"year":2017,"lat":27.5,"len":88},{"year":2017,"lat":27.5,"len":90},{"year":2017,"lat":27.5,"len":92},{"year":2017,"lat":27.5,"len":94},
{"year":2017,"lat":28,"len":79},{"year":2017,"lat":28,"len":81},{"year":2017,"lat":28,"len":83},{"year":2017,"lat":28,"len":85},{"year":2017,"lat":28,"len":87},{"year":2017,"lat":28,"len":89},{"year":2017,"lat":28,"len":91},{"year":2017,"lat":28,"len":93},{"year":2017,"lat":28,"len":95},{"year":2017,"lat":28,"len":97},{"year":2017,"lat":28,"len":124},
{"year":2017,"lat":28.5,"len":80},{"year":2017,"lat":28.5,"len":82},{"year":2017,"lat":28.5,"len":84},{"year":2017,"lat":28.5,"len":86},{"year":2017,"lat":28.5,"len":88},{"year":2017,"lat":28.5,"len":90},{"year":2017,"lat":28.5,"len":92},{"year":2017,"lat":28.5,"len":94},{"year":2017,"lat":28.5,"len":96},{"year":2017,"lat":28.5,"len":98},{"year":2017,"lat":28.5,"len":100},{"year":2017,"lat":28.5,"len":102},
{"year":2017,"lat":29,"len":76},{"year":2017,"lat":29,"len":86},{"year":2017,"lat":29,"len":89},{"year":2017,"lat":29,"len":92},
{"year":2017,"lat":30,"len":83},{"year":2017,"lat":30,"len":94},{"year":2017,"lat":30,"len":96},{"year":2017,"lat":30,"len":98}
],
"lon": [
{"year":2011,"lon":70,"len":73},{"year":2011,"lon":70,"len":75},{"year":2011,"lon":70,"len":77},{"year":2011,"lon":70,"len":79},{"year":2011,"lon":70,"len":81},{"year":2011,"lon":70,"len":83},{"year":2011,"lon":70,"len":85},{"year":2011,"lon":70,"len":87},{"year":2011,"lon":70,"len":89},{"year":2011,"lon":70,"len":91},{"year":2011,"lon":70,"len":93},{"year":2011,"lon":70,"len":95},{"year":2011,"lon":70,"len":97},{"year":2011,"lon":70,"len":99},{"year":2011,"lon":70,"len":101},{"year":2011,"lon":70,"len":103},{"year":2011,"lon":70,"len":113},{"year":2011,"lon":70,"len":126},{"year":2011,"lon":70,"len":141},
{"year":2011,"lon":67,"len":71},{"year":2011,"lon":67,"len":78},{"year":2011,"lon":67,"len":80},{"year":2011,"lon":67,"len":82},{"year":2011,"lon":67,"len":84},{"year":2011,"lon":67,"len":86},{"year":2011,"lon":67,"len":88},{"year":2011,"lon":67,"len":90},{"year":2011,"lon":67,"len":92},{"year":2011,"lon":67,"len":94},{"year":2011,"lon":67,"len":96},{"year":2011,"lon":67,"len":98},{"year":2011,"lon":67,"len":100},{"year":2011,"lon":67,"len":126},
{"year":2011,"lon":64,"len":70},{"year":2011,"lon":64,"len":72},{"year":2011,"lon":64,"len":74},{"year":2011,"lon":64,"len":76},{"year":2011,"lon":64,"len":78},{"year":2011,"lon":64,"len":80},{"year":2011,"lon":64,"len":82},{"year":2011,"lon":64,"len":84},{"year":2011,"lon":64,"len":86},{"year":2011,"lon":64,"len":88},{"year":2011,"lon":64,"len":90},{"year":2011,"lon":64,"len":92},{"year":2011,"lon":64,"len":94},{"year":2011,"lon":64,"len":96},{"year":2011,"lon":64,"len":98},{"year":2011,"lon":64,"len":100},{"year":2011,"lon":64,"len":102},{"year":2011,"lon":64,"len":104},{"year":2011,"lon":64,"len":110},{"year":2011,"lon":64,"len":120},{"year":2011,"lon":64,"len":130},{"year":2011,"lon":64,"len":132},{"year":2011,"lon":64,"len":147},
{"year":2011,"lon":61,"len":74},{"year":2011,"lon":61,"len":76},{"year":2011,"lon":61,"len":78},{"year":2011,"lon":61,"len":80},{"year":2011,"lon":61,"len":82},{"year":2011,"lon":61,"len":84},{"year":2011,"lon":61,"len":86},{"year":2011,"lon":61,"len":88},{"year":2011,"lon":61,"len":90},{"year":2011,"lon":61,"len":92},{"year":2011,"lon":61,"len":94},{"year":2011,"lon":61,"len":96},{"year":2011,"lon":61,"len":98},{"year":2011,"lon":61,"len":100},
{"year":2011,"lon":58,"len":79},{"year":2011,"lon":58,"len":81},{"year":2011,"lon":58,"len":83},{"year":2011,"lon":58,"len":85},{"year":2011,"lon":58,"len":87},{"year":2011,"lon":58,"len":89},{"year":2011,"lon":58,"len":91},{"year":2011,"lon":58,"len":93},{"year":2011,"lon":58,"len":95},{"year":2011,"lon":58,"len":97},
{"year":2014,"lon":70,"len":73},{"year":2014,"lon":70,"len":75},{"year":2014,"lon":70,"len":77},{"year":2014,"lon":70,"len":79},{"year":2014,"lon":70,"len":81},{"year":2014,"lon":70,"len":83},{"year":2014,"lon":70,"len":85},{"year":2014,"lon":70,"len":87},{"year":2014,"lon":70,"len":89},{"year":2014,"lon":70,"len":91},{"year":2014,"lon":70,"len":93},{"year":2014,"lon":70,"len":95},{"year":2014,"lon":70,"len":97},{"year":2014,"lon":70,"len":99},{"year":2014,"lon":70,"len":101},{"year":2014,"lon":70,"len":103},{"year":2014,"lon":70,"len":105},{"year":2014,"lon":70,"len":107},{"year":2014,"lon":70,"len":109},{"year":2014,"lon":70,"len":116},{"year":2014,"lon":70,"len":127},{"year":2014,"lon":70,"len":128},{"year":2014,"lon":70,"len":142},{"year":2014,"lon":70,"len":165},
{"year":2014,"lon":67,"len":80},{"year":2014,"lon":67,"len":82},{"year":2014,"lon":67,"len":84},{"year":2014,"lon":67,"len":86},{"year":2014,"lon":67,"len":88},{"year":2014,"lon":67,"len":90},{"year":2014,"lon":67,"len":92},{"year":2014,"lon":67,"len":94},{"year":2014,"lon":67,"len":96},{"year":2014,"lon":67,"len":98},{"year":2014,"lon":67,"len":100},
{"year":2014,"lon":64,"len":71},{"year":2014,"lon":64,"len":73},{"year":2014,"lon":64,"len":75},{"year":2014,"lon":64,"len":77},{"year":2014,"lon":64,"len":79},{"year":2014,"lon":64,"len":81},{"year":2014,"lon":64,"len":83},{"year":2014,"lon":64,"len":85},{"year":2014,"lon":64,"len":87},{"year":2014,"lon":64,"len":89},{"year":2014,"lon":64,"len":91},{"year":2014,"lon":64,"len":93},{"year":2014,"lon":64,"len":95},{"year":2014,"lon":64,"len":97},{"year":2014,"lon":64,"len":99},{"year":2014,"lon":64,"len":101},{"year":2014,"lon":64,"len":104},{"year":2014,"lon":64,"len":111},
{"year":2014,"lon":61,"len":66},{"year":2014,"lon":61,"len":68},{"year":2014,"lon":61,"len":70},{"year":2014,"lon":61,"len":72},{"year":2014,"lon":61,"len":74},{"year":2014,"lon":61,"len":76},{"year":2014,"lon":61,"len":78},{"year":2014,"lon":61,"len":80},{"year":2014,"lon":61,"len":82},{"year":2014,"lon":61,"len":84},{"year":2014,"lon":61,"len":86},{"year":2014,"lon":61,"len":88},{"year":2014,"lon":61,"len":90},{"year":2014,"lon":61,"len":92},{"year":2014,"lon":61,"len":94},{"year":2014,"lon":61,"len":96},{"year":2014,"lon":61,"len":98},{"year":2014,"lon":61,"len":100},{"year":2014,"lon":61,"len":118},
{"year":2014,"lon":58,"len":74},{"year":2014,"lon":58,"len":76},{"year":2014,"lon":58,"len":78},{"year":2014,"lon":58,"len":80},{"year":2014,"lon":58,"len":82},{"year":2014,"lon":58,"len":84},{"year":2014,"lon":58,"len":86},{"year":2014,"lon":58,"len":88},{"year":2014,"lon":58,"len":90},{"year":2014,"lon":58,"len":92},{"year":2014,"lon":58,"len":94},{"year":2014,"lon":58,"len":96},{"year":2014,"lon":58,"len":98},{"year":2014,"lon":58,"len":100},{"year":2014,"lon":58,"len":102},{"year":2014,"lon":58,"len":104},{"year":2014,"lon":58,"len":106},
{"year":2014,"lon":55,"len":74},{"year":2014,"lon":55,"len":76},{"year":2014,"lon":55,"len":78},{"year":2014,"lon":55,"len":80},{"year":2014,"lon":55,"len":82},{"year":2014,"lon":55,"len":84},{"year":2014,"lon":55,"len":86},{"year":2014,"lon":55,"len":88},{"year":2014,"lon":55,"len":90},{"year":2014,"lon":55,"len":92},{"year":2014,"lon":55,"len":94},{"year":2014,"lon":55,"len":96},
{"year":2014,"lon":52,"len":84},{"year":2014,"lon":52,"len":87},{"year":2014,"lon":52,"len":90},{"year":2014,"lon":52,"len":93},{"year":2014,"lon":52,"len":96},{"year":2014,"lon":52,"len":99},
{"year":2015,"lon":70,"len":60},{"year":2015,"lon":70,"len":78},{"year":2015,"lon":70,"len":80},{"year":2015,"lon":70,"len":82},{"year":2015,"lon":70,"len":84},{"year":2015,"lon":70,"len":86},{"year":2015,"lon":70,"len":88},{"year":2015,"lon":70,"len":90},{"year":2015,"lon":70,"len":92},{"year":2015,"lon":70,"len":94},{"year":2015,"lon":70,"len":96},{"year":2015,"lon":70,"len":98},{"year":2015,"lon":70,"len":100},{"year":2015,"lon":70,"len":102},{"year":2015,"lon":70,"len":104},{"year":2015,"lon":70,"len":106},{"year":2015,"lon":70,"len":108},{"year":2015,"lon":70,"len":110},{"year":2015,"lon":70,"len":116},{"year":2015,"lon":70,"len":121},{"year":2015,"lon":70,"len":126},{"year":2015,"lon":70,"len":147},{"year":2015,"lon":70,"len":155},
{"year":2015,"lon":67,"len":80},{"year":2015,"lon":67,"len":82},{"year":2015,"lon":67,"len":84},{"year":2015,"lon":67,"len":86},{"year":2015,"lon":67,"len":88},{"year":2015,"lon":67,"len":90},{"year":2015,"lon":67,"len":92},{"year":2015,"lon":67,"len":94},{"year":2015,"lon":67,"len":96},{"year":2015,"lon":67,"len":98},{"year":2015,"lon":67,"len":100},{"year":2015,"lon":67,"len":102},{"year":2015,"lon":67,"len":104},{"year":2015,"lon":67,"len":106},{"year":2015,"lon":67,"len":108},{"year":2015,"lon":67,"len":122},{"year":2015,"lon":67,"len":135},{"year":2015,"lon":67,"len":140},
{"year":2015,"lon":64,"len":77},{"year":2015,"lon":64,"len":79},{"year":2015,"lon":64,"len":81},{"year":2015,"lon":64,"len":83},{"year":2015,"lon":64,"len":85},{"year":2015,"lon":64,"len":87},{"year":2015,"lon":64,"len":89},{"year":2015,"lon":64,"len":91},{"year":2015,"lon":64,"len":93},{"year":2015,"lon":64,"len":95},{"year":2015,"lon":64,"len":97},{"year":2015,"lon":64,"len":99},{"year":2015,"lon":64,"len":101},{"year":2015,"lon":64,"len":103},{"year":2015,"lon":64,"len":130},{"year":2015,"lon":64,"len":166},
{"year":2015,"lon":61,"len":69},{"year":2015,"lon":61,"len":71},{"year":2015,"lon":61,"len":73},{"year":2015,"lon":61,"len":75},{"year":2015,"lon":61,"len":77},{"year":2015,"lon":61,"len":79},{"year":2015,"lon":61,"len":81},{"year":2015,"lon":61,"len":83},{"year":2015,"lon":61,"len":85},{"year":2015,"lon":61,"len":87},{"year":2015,"lon":61,"len":89},{"year":2015,"lon":61,"len":91},{"year":2015,"lon":61,"len":93},{"year":2015,"lon":61,"len":95},{"year":2015,"lon":61,"len":97},{"year":2015,"lon":61,"len":117},
{"year":2015,"lon":58,"len":76},{"year":2015,"lon":58,"len":78},{"year":2015,"lon":58,"len":80},{"year":2015,"lon":58,"len":82},{"year":2015,"lon":58,"len":84},{"year":2015,"lon":58,"len":86},{"year":2015,"lon":58,"len":88},{"year":2015,"lon":58,"len":90},{"year":2015,"lon":58,"len":92},{"year":2015,"lon":58,"len":94},{"year":2015,"lon":58,"len":96},{"year":2015,"lon":58,"len":98},{"year":2015,"lon":58,"len":100},{"year":2015,"lon":58,"len":102},{"year":2015,"lon":58,"len":104},{"year":2015,"lon":58,"len":146},
{"year":2017,"lon":64,"len":75},{"year":2017,"lon":64,"len":77},{"year":2017,"lon":64,"len":79},{"year":2017,"lon":64,"len":81},{"year":2017,"lon":64,"len":83},{"year":2017,"lon":64,"len":85},{"year":2017,"lon":64,"len":87},{"year":2017,"lon":64,"len":89},{"year":2017,"lon":64,"len":91},{"year":2017,"lon":64,"len":93},{"year":2017,"lon":64,"len":95},{"year":2017,"lon":64,"len":97},
{"year":2017,"lon":61,"len":60},{"year":2017,"lon":61,"len":62},{"year":2017,"lon":61,"len":72},{"year":2017,"lon":61,"len":74},{"year":2017,"lon":61,"len":76},{"year":2017,"lon":61,"len":78},{"year":2017,"lon":61,"len":80},{"year":2017,"lon":61,"len":82},{"year":2017,"lon":61,"len":84},{"year":2017,"lon":61,"len":86},{"year":2017,"lon":61,"len":88},{"year":2017,"lon":61,"len":90},{"year":2017,"lon":61,"len":92},{"year":2017,"lon":61,"len":94},{"year":2017,"lon":61,"len":96},{"year":2017,"lon":61,"len":98},{"year":2017,"lon":61,"len":100},{"year":2017,"lon":61,"len":102},{"year":2017,"lon":61,"len":104},{"year":2017,"lon":61,"len":110},{"year":2017,"lon":61,"len":118},{"year":2017,"lon":61,"len":122},{"year":2017,"lon":61,"len":125},{"year":2017,"lon":61,"len":127},
{"year":2017,"lon":58,"len":62},{"year":2017,"lon":58,"len":66},{"year":2017,"lon":58,"len":70},{"year":2017,"lon":58,"len":72},{"year":2017,"lon":58,"len":74},{"year":2017,"lon":58,"len":76},{"year":2017,"lon":58,"len":78},{"year":2017,"lon":58,"len":80},{"year":2017,"lon":58,"len":82},{"year":2017,"lon":58,"len":84},{"year":2017,"lon":58,"len":86},{"year":2017,"lon":58,"len":88},{"year":2017,"lon":58,"len":90},{"year":2017,"lon":58,"len":92},{"year":2017,"lon":58,"len":94},{"year":2017,"lon":58,"len":96},{"year":2017,"lon":58,"len":98},{"year":2017,"lon":58,"len":100}
]
}
}
